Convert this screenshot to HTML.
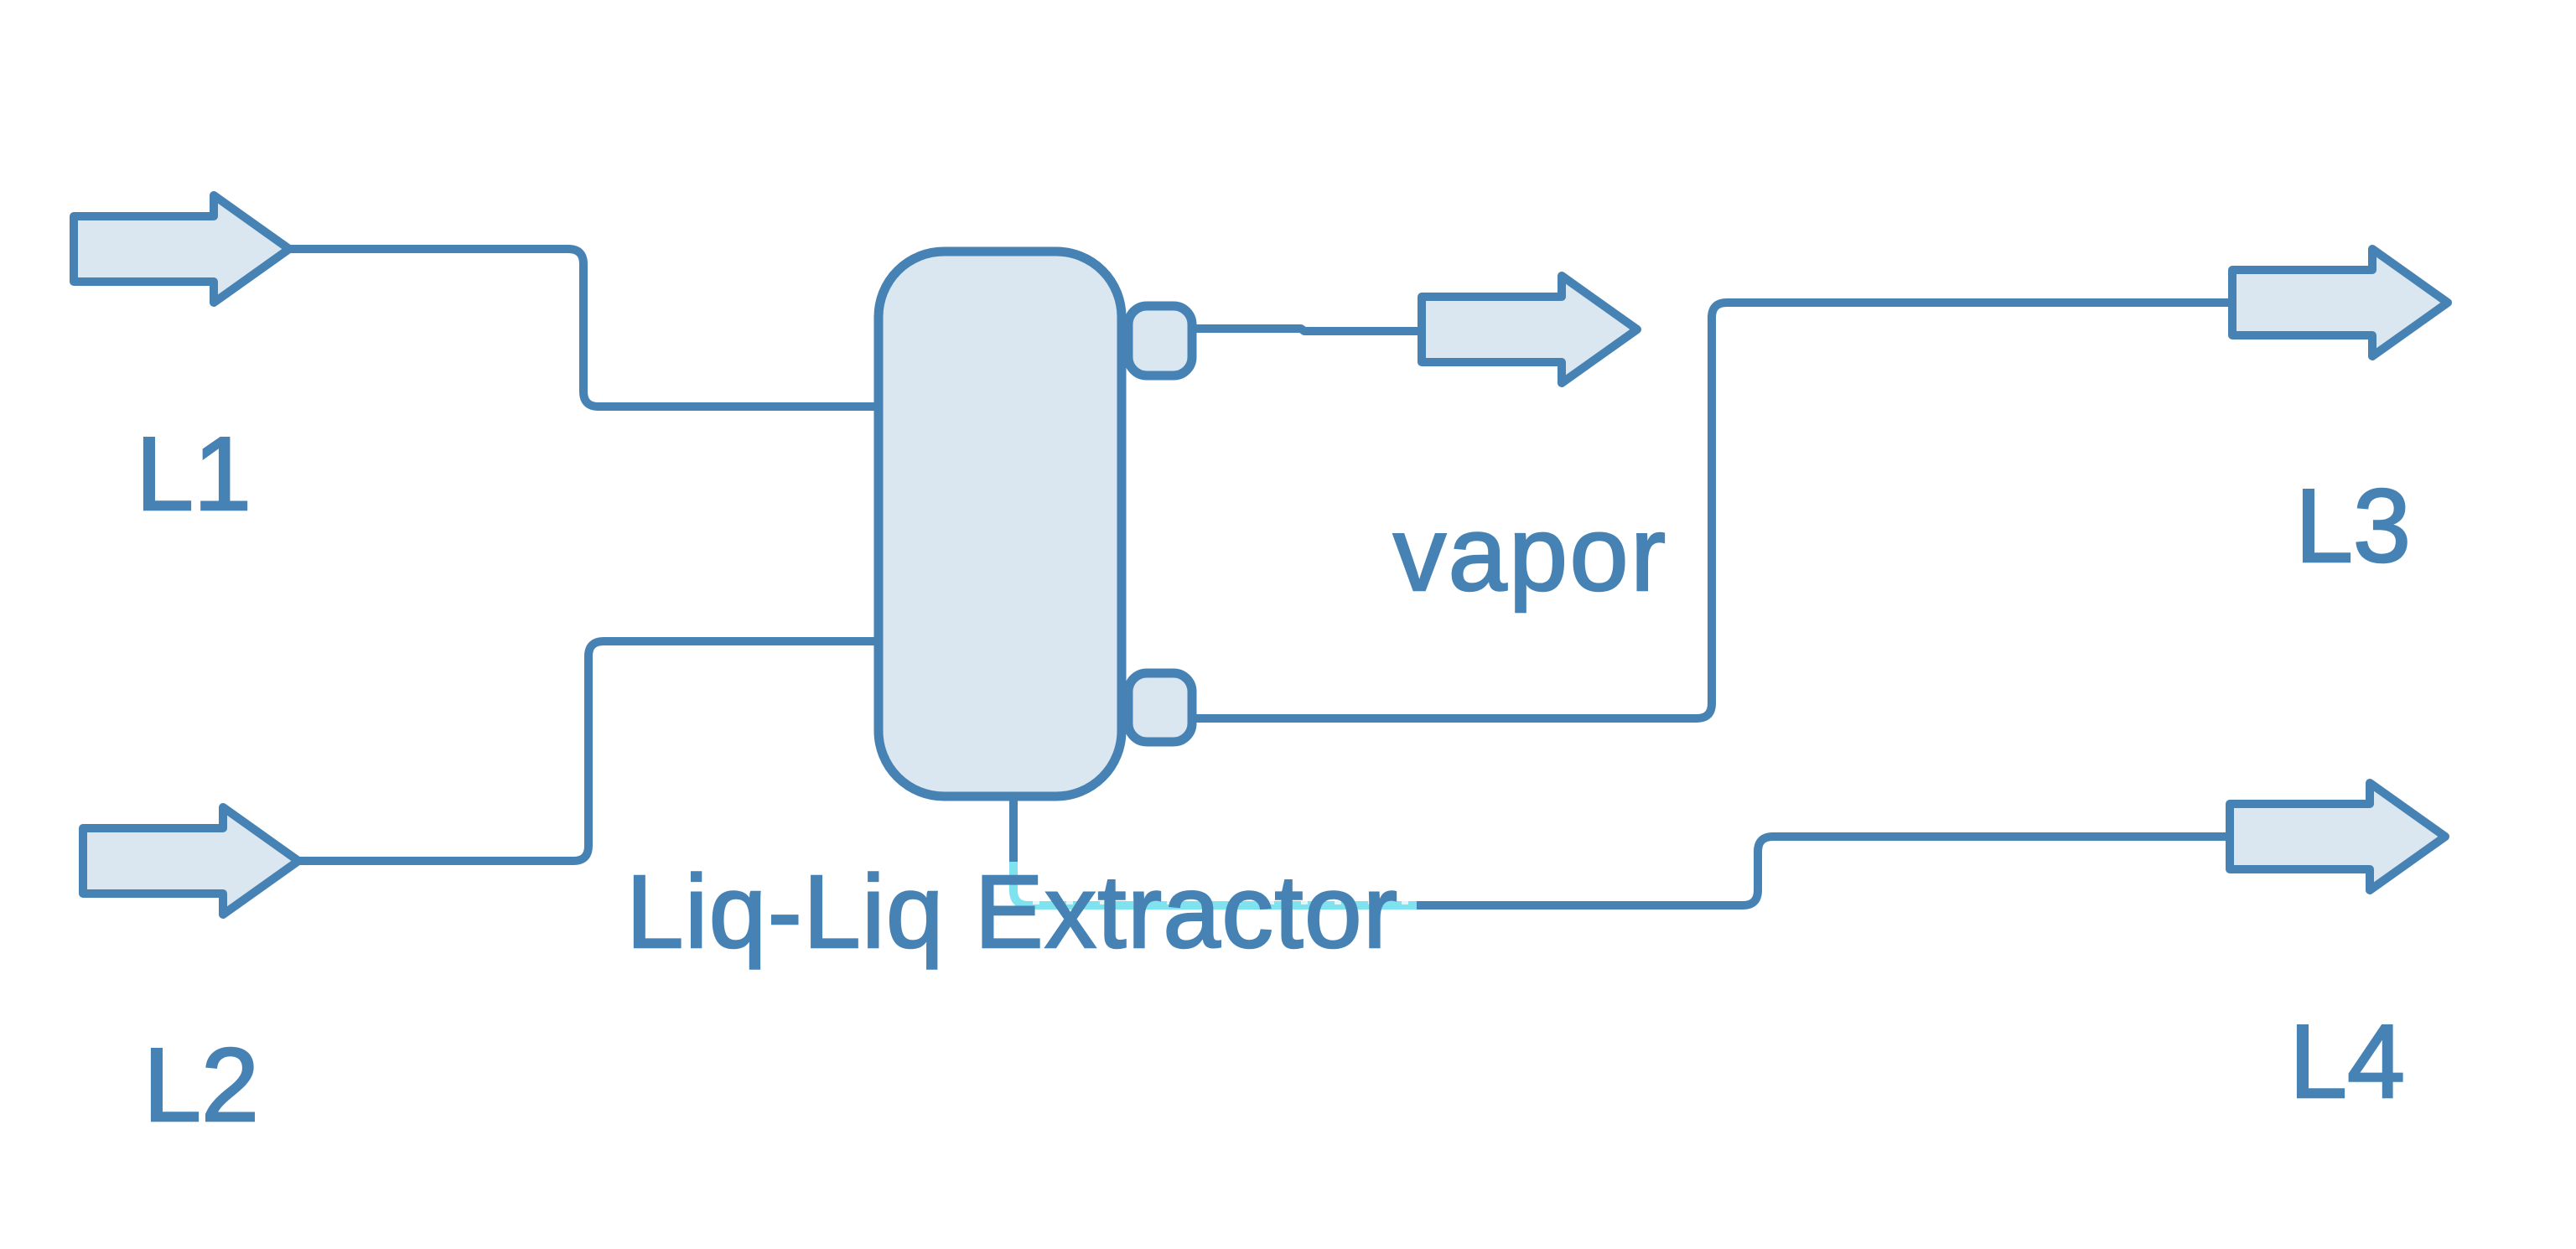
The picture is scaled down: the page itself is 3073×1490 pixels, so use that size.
<!DOCTYPE html>
<html>
<head>
<meta charset="utf-8">
<style>
  html, body { margin: 0; padding: 0; background: #ffffff; }
  body { width: 3073px; height: 1490px; overflow: hidden; }
  svg { display: block; }
  text { font-family: "Liberation Sans", "DejaVu Sans", sans-serif; fill: #4682B4; stroke: #4682B4; stroke-width: 2.5; }
</style>
</head>
<body>
<svg width="3073" height="1490" viewBox="0 0 3073 1490" xmlns="http://www.w3.org/2000/svg">
  <rect x="0" y="0" width="3073" height="1490" fill="#ffffff"/>

  <!-- connector lines -->
  <g fill="none" stroke="#4682B4" stroke-width="10" stroke-linejoin="round">
    <!-- L1 -> extractor -->
    <path d="M345,297 H678 Q696,297 696,315 V467 Q696,485 714,485 H1050"/>
    <!-- L2 -> extractor -->
    <path d="M356,1027 H684 Q702,1027 702,1009 V783 Q702,765 720,765 H1050"/>
    <!-- vapor -->
    <path d="M1420,392 H1552 L1556,395 H1696"/>
    <!-- lower nozzle -> L3 -->
    <path d="M1420,857 H2024 Q2042,857 2042,839 V379 Q2042,361 2060,361 H2664"/>
    <!-- bottom outlet -> L4 -->
    <path d="M1209,950 V1030"/>
    <path d="M1688,1080 H2079 Q2097,1080 2097,1062 V1016 Q2097,998 2115,998 H2660"/>
  </g>
  <!-- selected (cyan) segment -->
  <path d="M1209,1028 V1062 Q1209,1080 1227,1080 H1690" fill="none" stroke="#7FE3EF" stroke-width="10"/>
  <path d="M1232,1077 H1688" fill="none" stroke="#DDF7FA" stroke-width="4" stroke-dasharray="8 32"/>

  <!-- arrows -->
  <g fill="#DAE6F0" stroke="#4682B4" stroke-width="10" stroke-linejoin="round">
    <!-- L1 tip (345,297) -->
    <path d="M88,258 L255,258 L255,233 L345,297 L255,361 L255,336 L88,336 Z"/>
    <!-- L2 tip (356,1027) -->
    <path d="M99,988 L266,988 L266,963 L356,1027 L266,1091 L266,1066 L99,1066 Z"/>
    <!-- vapor tip (1953,393) -->
    <path d="M1696,354 L1863,354 L1863,329 L1953,393 L1863,457 L1863,432 L1696,432 Z"/>
    <!-- L3 tip (2920,361) -->
    <path d="M2663,322 L2830,322 L2830,297 L2920,361 L2830,425 L2830,400 L2663,400 Z"/>
    <!-- L4 tip (2917,998) -->
    <path d="M2660,959 L2827,959 L2827,934 L2917,998 L2827,1062 L2827,1037 L2660,1037 Z"/>
  </g>

  <!-- extractor -->
  <g fill="#DAE6F0" stroke="#4682B4" stroke-width="11">
    <rect x="1048" y="300" width="290" height="650" rx="78" ry="78"/>
    <rect x="1346" y="365" width="76" height="83" rx="22" ry="22"/>
    <rect x="1346" y="803" width="76" height="82" rx="22" ry="22"/>
  </g>

  <!-- labels -->
  <text x="162" y="608" font-size="124">L1</text>
  <text x="171" y="1337" font-size="124">L2</text>
  <text x="2738" y="670" font-size="124">L3</text>
  <text x="2731" y="1309" font-size="124">L4</text>
  <text x="1662" y="704" font-size="126" textLength="325" lengthAdjust="spacing">vapor</text>
  <text x="747" y="1130" font-size="123" textLength="920" lengthAdjust="spacing">Liq-Liq Extractor</text>
</svg>
</body>
</html>
